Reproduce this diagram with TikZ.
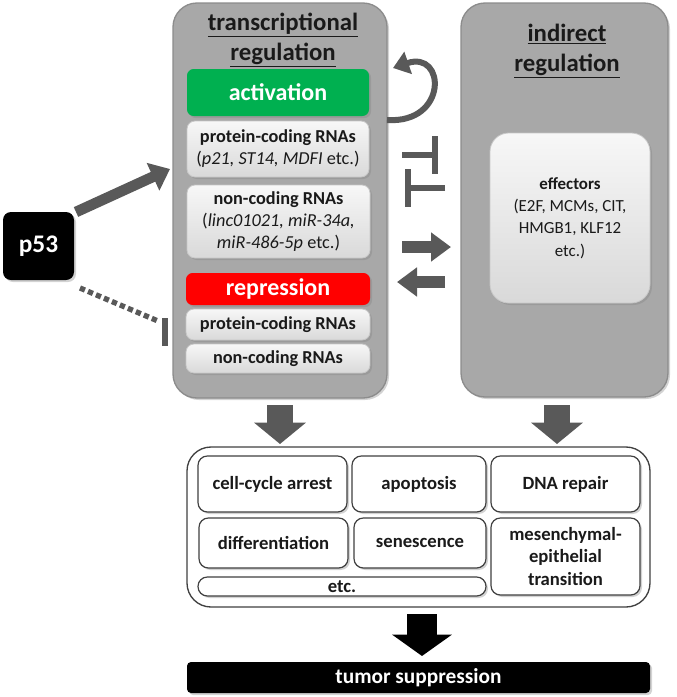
\documentclass[tikz,border=0pt]{standalone}
\usepackage{fontspec}
\setmainfont{Carlito}
\usetikzlibrary{arrows.meta,shadows}
\definecolor{boxgray}{HTML}{A8A8A8}
\definecolor{boxedge}{HTML}{8C8C8C}
\definecolor{arrgray}{HTML}{595959}
\definecolor{actgreen}{HTML}{00B050}
\definecolor{repred}{HTML}{FF0000}
\definecolor{txt}{HTML}{1A1A1A}
\newcommand\bx[7]{\node[#6, minimum width={(#4-#2)*0.75pt}, minimum height={(#5-#3)*0.75pt}] (#1) at ({(#2+#4)/2},{(#3+#5)/2}) {#7};}
\tikzset{
  shad/.style={drop shadow={opacity=0.35,shadow xshift=1.5pt,shadow yshift=-1.5pt}},
  bigbox/.style={draw=boxedge, line width=1pt, fill=boxgray, rounded corners=18pt, inner sep=0pt, shad},
  innerbox/.style={draw=black!22, line width=0.6pt, top color=black!3, bottom color=black!15, rounded corners=6pt, inner sep=0pt, align=center, text=txt, font=\fontsize{13.7}{16.5}\selectfont, shad},
  effbox/.style={innerbox, rounded corners=14pt, font=\fontsize{12.7}{16.7}\selectfont},
  colbox/.style={draw=none, rounded corners=5pt, inner sep=0pt, text=white, font=\fontsize{18}{20}\selectfont\bfseries, shad},
  title/.style={align=center, text=txt, font=\fontsize{18.6}{22.5}\selectfont\bfseries},
  cell/.style={draw=black!75, line width=0.9pt, fill=white, rounded corners=7pt, inner sep=0pt, align=center, text=txt, font=\fontsize{14}{17.6}\selectfont\bfseries, shad},
  frame/.style={draw=black!75, line width=1pt, fill=white, rounded corners=18pt, inner sep=0pt},
  blackbox/.style={fill=black, rounded corners=6pt, inner sep=0pt, text=white, shad},
  garrow/.style={draw=arrgray, line width=8pt, -{Triangle[length=14pt,width=22pt]}},
  harrow/.style={draw=arrgray, line width=9.5pt, -{Triangle[length=15pt,width=21pt]}},
  darrow/.style={draw=arrgray, line width=20pt, -{Triangle[length=16pt,width=38pt]}},
  barrow/.style={draw=black, line width=22pt, -{Triangle[length=16pt,width=44pt]}},
  inh/.style={draw=arrgray, line width=4pt, -{Bar[width=28pt,line width=4.5pt]}},
}
\begin{document}
\begin{tikzpicture}[x=0.75pt,y=-0.75pt]
\useasboundingbox (0,0) rectangle (676,697);
% big boxes
\bx{trbox}{173}{3}{387}{398}{bigbox}{}
\bx{inbox}{461}{3}{668}{397}{bigbox}{}
\node[title] (trtitle) at (283,40) {\underline{transcriptional}\\\underline{regulation}};
\node[title] (intitle) at (567,51) {\underline{indirect}\\\underline{regulation}};
% inner boxes left
\bx{act}{187}{69}{369}{116}{colbox,fill=actgreen}{activation}
\bx{pc1}{187}{121}{369}{177}{innerbox}{\textbf{protein-coding RNAs}\\(\textit{p21, ST14, MDFI} etc.)}
\bx{nc1}{187}{185}{370}{258}{innerbox}{\textbf{non-coding RNAs}\\(\textit{linc01021, miR-34a,}\\\textit{miR-486-5p} etc.)}
\bx{rep}{186}{273}{370}{305}{colbox,fill=repred}{repression}
\bx{pc2}{186}{309}{370}{340}{innerbox}{\textbf{protein-coding RNAs}}
\bx{nc2}{186}{344}{370}{373}{innerbox}{\textbf{non-coding RNAs}}
% effectors
\bx{eff}{490}{133}{650}{303}{effbox}{\textbf{effectors}\\(E2F, MCMs, CIT,\\HMGB1, KLF12\\etc.)}
% p53
\bx{p53}{3}{212}{74}{280}{blackbox,font=\fontsize{19}{22}\selectfont\bfseries}{p53}
% bottom frame and cells
\bx{fr}{187}{447}{650}{607}{frame}{}
\bx{c1}{198}{456}{347}{512}{cell}{cell-cycle arrest}
\bx{c2}{352}{456}{486}{512}{cell}{apoptosis}
\bx{c3}{491}{456}{640}{512}{cell}{DNA repair}
\bx{c4}{199}{518}{348}{568}{cell}{differentiation}
\bx{c5}{354}{518}{486}{568}{cell}{senescence}
\bx{c6}{491}{518}{640}{595}{cell,font=\fontsize{14}{17}\selectfont\bfseries}{mesenchymal-\\epithelial\\transition}
\bx{c7}{198}{577}{486}{596}{cell}{\raisebox{-2pt}{etc.}}
\bx{ts}{187}{662}{650}{693}{blackbox,rounded corners=3pt,font=\fontsize{16}{18}\selectfont\bfseries}{tumor suppression}
% coordinates for connector ends
\coordinate (a1s) at (76,212);
\coordinate (a1e) at (170,169);
\coordinate (d1s) at (80,288);
\coordinate (d1e) at (158,321);
\coordinate (b1a) at (165,318);
\coordinate (b1b) at (165,346);
\coordinate (cs) at (387,120);
\coordinate (ce) at (393,68);
\coordinate (t1s) at (402,155);
\coordinate (t1e) at (438,155);
\coordinate (t2s) at (445,188);
\coordinate (t2e) at (405,188);
\coordinate (h1s) at (402,247);
\coordinate (h1e) at (451,247);
\coordinate (h2s) at (445,282);
\coordinate (h2e) at (397,282);
\coordinate (dl1) at (280,405);
\coordinate (dl2) at (280,444);
\coordinate (dr1) at (557,405);
\coordinate (dr2) at (557,444);
\coordinate (bk1) at (422,614);
\coordinate (bk2) at (422,656);
% connectors
\draw[garrow] (a1s) -- (a1e);
\draw[draw=arrgray, line width=4pt, dash pattern=on 4pt off 2.5pt] (d1s) -- (d1e);
\draw[draw=arrgray, line width=4.5pt] (b1a) -- (b1b);
\draw[draw=arrgray, line width=4.5pt, -{Triangle[length=12pt,width=17pt]}] (cs) .. controls (448,124) and (446,50) .. (ce);
\draw[inh] (t1s) -- (t1e);
\draw[inh] (t2s) -- (t2e);
\draw[harrow] (h1s) -- (h1e);
\draw[harrow] (h2s) -- (h2e);
\draw[darrow] (dl1) -- (dl2);
\draw[darrow] (dr1) -- (dr2);
\draw[barrow] (bk1) -- (bk2);
\end{tikzpicture}
\end{document}
